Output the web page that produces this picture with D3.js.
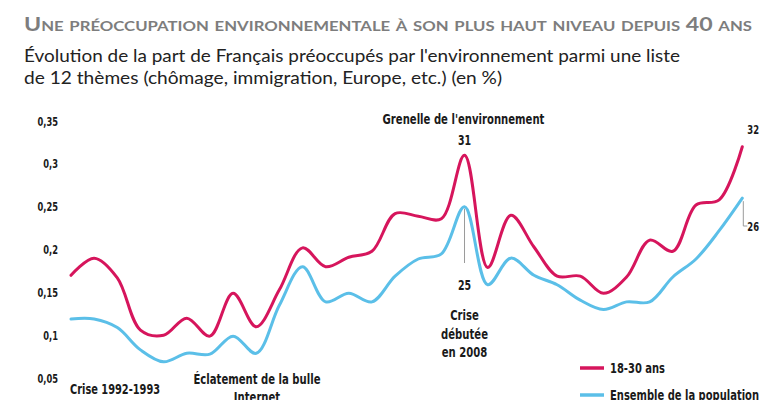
<!DOCTYPE html>
<html lang="fr">
<head>
<meta charset="utf-8">
<script src="https://cdn.jsdelivr.net/npm/d3@7"></script>
<style>
  html, body { margin: 0; padding: 0; background: #fff; }
  svg { display: block; }
  .cond { font-family: "Liberation Sans Narrow", "DejaVu Sans Condensed", "Roboto", sans-serif; font-stretch: condensed; font-weight: bold; fill: #1a1a1a; }
</style>
</head>
<body>
<svg id="chart" width="761" height="400"></svg>
<script>
// Années couvertes par l'enquête
const years = d3.range(1990, 2020);

// Part des 18-30 ans préoccupés par l'environnement
const jeunes = [0.170, 0.190, 0.167, 0.106, 0.100, 0.120, 0.099, 0.149, 0.110, 0.153,
                0.202, 0.180, 0.191, 0.198, 0.242, 0.239, 0.236, 0.310, 0.179, 0.240,
                0.203, 0.169, 0.169, 0.149, 0.168, 0.211, 0.198, 0.252, 0.258, 0.320];

// Part de l'ensemble de la population
const ensemble = [0.119, 0.119, 0.109, 0.083, 0.069, 0.079, 0.078, 0.099, 0.079, 0.135,
                  0.180, 0.139, 0.149, 0.139, 0.169, 0.189, 0.195, 0.250, 0.159, 0.190,
                  0.170, 0.159, 0.141, 0.130, 0.139, 0.139, 0.168, 0.189, 0.222, 0.260];

const yTicks = [0, 0.05, 0.1, 0.15, 0.2, 0.25, 0.3, 0.35];

const seriesNames = ["18-30 ans", "Ensemble de la population"];
const colors = ["#d6155c", "#5bbfe8"];

const svg = d3.select("#chart");

const x = d3.scaleLinear().domain([1990, 2019]).range([71, 742.3]);
const y = d3.scaleLinear().domain([0, 0.35]).range([421, 121]);

const fr = d3.formatLocale({ decimal: ",", thousands: " ", grouping: [3], currency: ["", " €"] });
const fmt = fr.format(".2~f");

// Resserre horizontalement un texte (police étroite de substitution)
function condense(sel, f) {
  sel.each(function () {
    const w = this.getComputedTextLength();
    d3.select(this).attr("textLength", w * f).attr("lengthAdjust", "spacingAndGlyphs");
  });
  return sel;
}

// Titre et sous-titre
svg.append("text")
  .attr("x", 24).attr("y", 31)
  .attr("font-family", "Lato, 'Open Sans', sans-serif")
  .attr("font-weight", "bold")
  .attr("font-size", 18)
  .attr("fill", "#7d7d7d")
  .style("font-variant", "small-caps")
  .attr("textLength", 728)
  .attr("lengthAdjust", "spacingAndGlyphs")
  .text("Une préoccupation environnementale à son plus haut niveau depuis 40 ans");

svg.append("text")
  .attr("x", 24).attr("y", 62)
  .attr("font-family", "Lato, 'Open Sans', sans-serif")
  .attr("font-size", 17)
  .attr("fill", "#222")
  .attr("textLength", 656)
  .attr("lengthAdjust", "spacingAndGlyphs")
  .text("Évolution de la part de Français préoccupés par l'environnement parmi une liste");

svg.append("text")
  .attr("x", 24).attr("y", 84)
  .attr("font-family", "Lato, 'Open Sans', sans-serif")
  .attr("font-size", 17)
  .attr("fill", "#222")
  .attr("textLength", 478)
  .attr("lengthAdjust", "spacingAndGlyphs")
  .text("de 12 thèmes (chômage, immigration, Europe, etc.) (en %)");

// Axe vertical sans trait
const yAxis = d3.axisLeft(y).tickValues(yTicks).tickFormat(fmt).tickSize(0).tickPadding(0);
const gy = svg.append("g").attr("transform", "translate(58,0)").call(yAxis);
gy.select(".domain").remove();
condense(gy.selectAll("text")
  .attr("class", "cond")
  .attr("font-size", 12.5)
  .attr("fill", "#1a1a1a"), 0.74);

// Courbes
const line = d3.line()
  .x((d, i) => x(years[i]))
  .y(d => y(d))
  .curve(d3.curveCatmullRom.alpha(0.5));

[ensemble, jeunes].forEach((s, k) => {
  svg.append("path")
    .datum(s)
    .attr("d", line)
    .attr("fill", "none")
    .attr("stroke", k === 0 ? colors[1] : colors[0])
    .attr("stroke-width", 3)
    .attr("stroke-linejoin", "round")
    .attr("stroke-linecap", "round");
});

// Annotations
const iPeak = years.indexOf(2007);
const iLast = years.length - 1;
const xp = x(years[iPeak]);

function label(txt, px, py, anchor, size, f) {
  const t = svg.append("text")
    .attr("class", "cond")
    .attr("x", px).attr("y", py)
    .attr("text-anchor", anchor || "middle")
    .attr("font-size", size || 14)
    .text(txt);
  condense(t, f || 0.8);
  return t;
}

label("Grenelle de l'environnement", xp - 1, 124, "middle", 14);
label(Math.round(jeunes[iPeak] * 100), xp, y(jeunes[iPeak]) - 10, "middle", 14, 0.75);

svg.append("line")
  .attr("x1", xp).attr("x2", xp)
  .attr("y1", y(ensemble[iPeak]) + 2).attr("y2", 263)
  .attr("stroke", "#9a9a9a").attr("stroke-width", 1);
label(Math.round(ensemble[iPeak] * 100), xp, 290, "middle", 14, 0.75);
label("Crise", xp, 320, "middle", 14);
label("débutée", xp, 338.5, "middle", 14);
label("en 2008", xp, 357, "middle", 14);

const xl = x(years[iLast]);
label(Math.round(jeunes[iLast] * 100), xl + 5, y(jeunes[iLast]) - 13, "start", 13, 0.72);
svg.append("path")
  .attr("d", `M${xl + 1},${y(ensemble[iLast]) + 3} V226 H${xl + 5}`)
  .attr("fill", "none").attr("stroke", "#9a9a9a").attr("stroke-width", 1);
label(Math.round(ensemble[iLast] * 100), xl + 5, 231, "start", 13, 0.72);

label("Crise 1992-1993", 70, 394, "start", 14, 0.78);
label("Éclatement de la bulle", 257, 384, "middle", 14, 0.8);
label("Internet", 257, 402, "middle", 14, 0.8);

// Légende
const legend = svg.append("g").attr("transform", "translate(580,0)");
[[368, 0], [395, 1]].forEach(([ly, k]) => {
  legend.append("line")
    .attr("x1", 0).attr("x2", 24).attr("y1", ly).attr("y2", ly)
    .attr("stroke", colors[k]).attr("stroke-width", 3.5);
  const t = legend.append("text")
    .attr("class", "cond")
    .attr("x", 30).attr("y", ly + 5)
    .attr("font-size", 14)
    .text(seriesNames[k]);
  condense(t, 0.79);
});
</script>
</body>
</html>
